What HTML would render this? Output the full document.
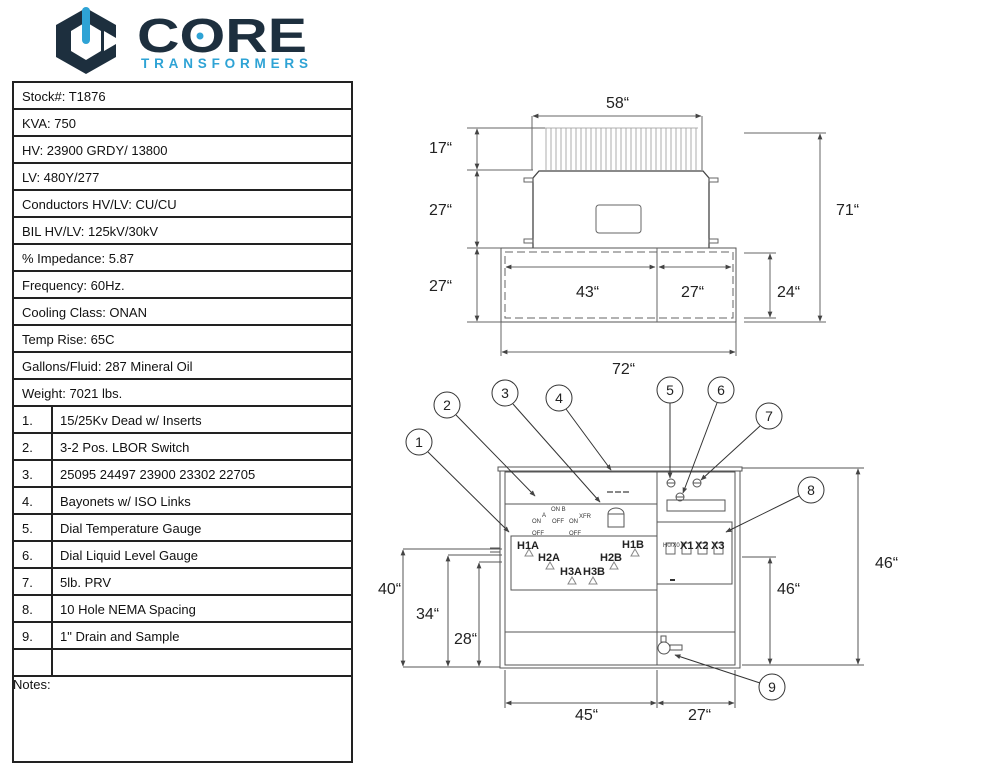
<!DOCTYPE html>
<html><head><meta charset="utf-8"><style>
body{margin:0;background:#fff;width:1000px;height:773px;overflow:hidden;font-family:"Liberation Sans",sans-serif}
svg{position:absolute;left:0;top:0}
</style></head><body>
<svg width="1000" height="773" viewBox="0 0 1000 773" xmlns="http://www.w3.org/2000/svg" font-family="Liberation Sans, sans-serif">
<defs>
<marker id="a" viewBox="0 0 10 10" refX="9" refY="5" markerWidth="6" markerHeight="6" orient="auto-start-reverse"><path d="M0,1 L10,5 L0,9z" fill="#444"/></marker>
</defs>
<!-- logo -->
<g>
<path d="M86,8 L116,25 L116,38 L104,31 L104,51 L116,44 L116,57 L86,74 L56,57 L56,25z" fill="#1d2f3e"/>
<path d="M86,22 L101,31 L101,51 L86,60 L71,51 L71,31z" fill="#fff"/>
<rect x="82" y="7" width="8" height="37" rx="4" fill="#2ea3d5"/>
<text x="137" y="52" font-size="48" font-weight="bold" fill="#1d2f3e" textLength="170" lengthAdjust="spacingAndGlyphs">CORE</text>
<circle cx="200" cy="36" r="3.5" fill="#2ea3d5"/>
<text x="141" y="68" font-size="13.5" font-weight="bold" fill="#2ea3d5" textLength="167" lengthAdjust="spacing">TRANSFORMERS</text>
</g>
<!-- table -->
<g stroke="#222" stroke-width="2" fill="none">
<rect x="13" y="82" width="339" height="680"/>
<line x1="13" y1="109" x2="352" y2="109"/><line x1="13" y1="136" x2="352" y2="136"/><line x1="13" y1="163" x2="352" y2="163"/><line x1="13" y1="190" x2="352" y2="190"/><line x1="13" y1="217" x2="352" y2="217"/><line x1="13" y1="244" x2="352" y2="244"/><line x1="13" y1="271" x2="352" y2="271"/><line x1="13" y1="298" x2="352" y2="298"/><line x1="13" y1="325" x2="352" y2="325"/><line x1="13" y1="352" x2="352" y2="352"/><line x1="13" y1="379" x2="352" y2="379"/><line x1="13" y1="406" x2="352" y2="406"/><line x1="13" y1="433" x2="352" y2="433"/><line x1="13" y1="460" x2="352" y2="460"/><line x1="13" y1="487" x2="352" y2="487"/><line x1="13" y1="514" x2="352" y2="514"/><line x1="13" y1="541" x2="352" y2="541"/><line x1="13" y1="568" x2="352" y2="568"/><line x1="13" y1="595" x2="352" y2="595"/><line x1="13" y1="622" x2="352" y2="622"/><line x1="13" y1="649" x2="352" y2="649"/><line x1="13" y1="676" x2="352" y2="676"/>
<line x1="52" y1="406" x2="52" y2="676"/>
</g>
<g font-size="13" fill="#111">
<text x="22" y="101">Stock#: T1876</text><text x="22" y="128">KVA: 750</text><text x="22" y="155">HV: 23900 GRDY/ 13800</text><text x="22" y="182">LV: 480Y/277</text><text x="22" y="209">Conductors HV/LV: CU/CU</text><text x="22" y="236">BIL HV/LV: 125kV/30kV</text><text x="22" y="263">% Impedance: 5.87</text><text x="22" y="290">Frequency: 60Hz.</text><text x="22" y="317">Cooling Class: ONAN</text><text x="22" y="344">Temp Rise: 65C</text><text x="22" y="371">Gallons/Fluid: 287 Mineral Oil</text><text x="22" y="398">Weight: 7021 lbs.</text>
<text x="22" y="425">1.</text><text x="22" y="452">2.</text><text x="22" y="479">3.</text><text x="22" y="506">4.</text><text x="22" y="533">5.</text><text x="22" y="560">6.</text><text x="22" y="587">7.</text><text x="22" y="614">8.</text><text x="22" y="641">9.</text>
<text x="60" y="425">15/25Kv Dead w/ Inserts</text><text x="60" y="452">3-2 Pos. LBOR Switch</text><text x="60" y="479">25095 24497 23900 23302 22705</text><text x="60" y="506">Bayonets w/ ISO Links</text><text x="60" y="533">Dial Temperature Gauge</text><text x="60" y="560">Dial Liquid Level Gauge</text><text x="60" y="587">5lb. PRV</text><text x="60" y="614">10 Hole NEMA Spacing</text><text x="60" y="641">1" Drain and Sample</text>
<text x="13" y="689">Notes:</text>
</g>
<!-- top view -->
<g stroke="#666" stroke-width="1" fill="none">
<g stroke="#999" stroke-width="0.8">
<path d="M546,128V170M551,128V170M556,128V170M561,128V170M566,128V170M571,128V170M576,128V170M581,128V170M586,128V170M591,128V170M596,128V170M601,128V170M606,128V170M611,128V170M616,128V170M621,128V170M626,128V170M631,128V170M636,128V170M641,128V170M646,128V170M651,128V170M656,128V170M661,128V170M666,128V170M671,128V170M676,128V170M681,128V170M686,128V170M691,128V170M696,128V170"/>
<line x1="545" y1="128" x2="698" y2="128"/>
</g>
<path d="M533,248V178L539,171H703L709,178V248" stroke="#444" stroke-width="1.3"/>
<rect x="524" y="178" width="9" height="4"/><rect x="709" y="178" width="9" height="4"/>
<rect x="524" y="239" width="9" height="4"/><rect x="709" y="239" width="9" height="4"/>
<rect x="596" y="205" width="45" height="28" rx="3"/>
<rect x="501" y="248" width="235" height="74" stroke="#555"/>
<rect x="505" y="252" width="228" height="66" stroke-dasharray="8,4"/>
<line x1="657" y1="248" x2="657" y2="322"/>
<line x1="532" y1="116" x2="532" y2="170"/><line x1="702" y1="116" x2="702" y2="170"/>
<line x1="533" y1="116" x2="701" y2="116" marker-start="url(#a)" marker-end="url(#a)"/>
<line x1="467" y1="128" x2="545" y2="128"/><line x1="467" y1="170" x2="533" y2="170"/><line x1="467" y1="248" x2="501" y2="248"/><line x1="467" y1="322" x2="501" y2="322"/>
<line x1="477" y1="129" x2="477" y2="169" marker-start="url(#a)" marker-end="url(#a)"/>
<line x1="477" y1="171" x2="477" y2="247" marker-start="url(#a)" marker-end="url(#a)"/>
<line x1="477" y1="249" x2="477" y2="321" marker-start="url(#a)" marker-end="url(#a)"/>
<line x1="744" y1="133" x2="826" y2="133"/><line x1="744" y1="322" x2="826" y2="322"/><line x1="744" y1="253" x2="776" y2="253"/><line x1="744" y1="318" x2="776" y2="318"/>
<line x1="820" y1="134" x2="820" y2="321" marker-start="url(#a)" marker-end="url(#a)"/>
<line x1="770" y1="254" x2="770" y2="317" marker-start="url(#a)" marker-end="url(#a)"/>
<line x1="506" y1="267" x2="655" y2="267" marker-start="url(#a)" marker-end="url(#a)"/>
<line x1="659" y1="267" x2="731" y2="267" marker-start="url(#a)" marker-end="url(#a)"/>
<line x1="501" y1="322" x2="501" y2="356"/><line x1="736" y1="322" x2="736" y2="356"/>
<line x1="502" y1="352" x2="735" y2="352" marker-start="url(#a)" marker-end="url(#a)"/>
</g>
<g font-size="16" fill="#222">
<text x="606" y="108">58“</text><text x="429" y="153">17“</text><text x="429" y="215">27“</text><text x="429" y="291">27“</text>
<text x="836" y="215">71“</text><text x="777" y="297">24“</text><text x="576" y="297">43“</text><text x="681" y="297">27“</text><text x="612" y="374">72“</text>
</g>
<!-- front view -->
<g stroke="#555" stroke-width="1" fill="none">
<rect x="498" y="467" width="244" height="4" fill="#fff"/>
<rect x="500" y="471" width="240" height="197"/>
<rect x="505" y="472" width="230" height="193"/>
<line x1="657" y1="472" x2="657" y2="665"/>
<line x1="505" y1="504" x2="657" y2="504"/>
<rect x="511" y="536" width="146" height="54"/>
<line x1="505" y1="632" x2="735" y2="632"/>
<rect x="667" y="500" width="58" height="11"/>
<rect x="657" y="522" width="75" height="62"/>
<circle cx="671" cy="483" r="4"/><line x1="667" y1="483" x2="675" y2="483"/>
<circle cx="697" cy="483" r="4"/><line x1="693" y1="483" x2="701" y2="483"/>
<circle cx="680" cy="497" r="4"/><line x1="676" y1="497" x2="684" y2="497"/>
<path d="M608,514a8,6 0 0 1 16,0v13h-16z"/><line x1="608" y1="514" x2="624" y2="514"/>
<path d="M607,492h6M615,492h6M623,492h6" stroke="#888" stroke-width="2"/>
<g stroke="#666"><rect x="666" y="543" width="9" height="11"/><rect x="682" y="543" width="9" height="11"/><rect x="698" y="543" width="9" height="11"/><rect x="714" y="543" width="9" height="11"/></g>
<g stroke="#888"><path d="M525,556l4,-7 4,7z"/><path d="M546,569l4,-7 4,7z"/><path d="M568,584l4,-7 4,7z"/><path d="M589,584l4,-7 4,7z"/><path d="M610,569l4,-7 4,7z"/><path d="M631,556l4,-7 4,7z"/></g>
<circle cx="664" cy="648" r="6"/><rect x="670" y="645" width="12" height="5"/><rect x="661" y="636" width="5" height="6"/>
<line x1="670" y1="580" x2="675" y2="580" stroke="#333" stroke-width="2"/>
<line x1="490" y1="548" x2="500" y2="548"/><line x1="490" y1="552" x2="500" y2="552"/>
<line x1="742" y1="468" x2="864" y2="468"/><line x1="742" y1="665" x2="864" y2="665"/><line x1="742" y1="557" x2="776" y2="557"/>
<line x1="858" y1="469" x2="858" y2="664" marker-start="url(#a)" marker-end="url(#a)"/>
<line x1="770" y1="558" x2="770" y2="664" marker-start="url(#a)" marker-end="url(#a)"/>
<line x1="403" y1="549" x2="502" y2="549"/><line x1="448" y1="555" x2="502" y2="555"/><line x1="479" y1="562" x2="502" y2="562"/><line x1="403" y1="667" x2="500" y2="667"/>
<line x1="403" y1="550" x2="403" y2="666" marker-start="url(#a)" marker-end="url(#a)"/>
<line x1="448" y1="556" x2="448" y2="666" marker-start="url(#a)" marker-end="url(#a)"/>
<line x1="479" y1="563" x2="479" y2="666" marker-start="url(#a)" marker-end="url(#a)"/>
<line x1="505" y1="670" x2="505" y2="708"/><line x1="657" y1="670" x2="657" y2="708"/><line x1="735" y1="670" x2="735" y2="708"/>
<line x1="506" y1="703" x2="656" y2="703" marker-start="url(#a)" marker-end="url(#a)"/>
<line x1="658" y1="703" x2="734" y2="703" marker-start="url(#a)" marker-end="url(#a)"/>
<g stroke="#333">
<circle cx="419" cy="442" r="13" fill="#fff"/><circle cx="447" cy="405" r="13" fill="#fff"/><circle cx="505" cy="393" r="13" fill="#fff"/><circle cx="559" cy="398" r="13" fill="#fff"/><circle cx="670" cy="390" r="13" fill="#fff"/><circle cx="721" cy="390" r="13" fill="#fff"/><circle cx="769" cy="416" r="13" fill="#fff"/><circle cx="811" cy="490" r="13" fill="#fff"/><circle cx="772" cy="687" r="13" fill="#fff"/>
<line x1="428" y1="452" x2="509" y2="532" marker-end="url(#a)"/>
<line x1="456" y1="415" x2="535" y2="496" marker-end="url(#a)"/>
<line x1="513" y1="404" x2="600" y2="502" marker-end="url(#a)"/>
<line x1="566" y1="409" x2="611" y2="470" marker-end="url(#a)"/>
<line x1="670" y1="403" x2="670" y2="478" marker-end="url(#a)"/>
<line x1="717" y1="403" x2="683" y2="493" marker-end="url(#a)"/>
<line x1="760" y1="426" x2="701" y2="480" marker-end="url(#a)"/>
<line x1="799" y1="496" x2="726" y2="532" marker-end="url(#a)"/>
<line x1="760" y1="683" x2="675" y2="655" marker-end="url(#a)"/>
</g>
</g>
<g font-size="14" fill="#222" text-anchor="middle">
<text x="419" y="447">1</text><text x="447" y="410">2</text><text x="505" y="398">3</text><text x="559" y="403">4</text><text x="670" y="395">5</text><text x="721" y="395">6</text><text x="769" y="421">7</text><text x="811" y="495">8</text><text x="772" y="692">9</text>
</g>
<g font-size="6" fill="#333">
<text x="551" y="511">ON  B</text><text x="542" y="517">A</text><text x="532" y="523">ON</text><text x="552" y="523">OFF</text><text x="579" y="518">XFR</text><text x="569" y="523">ON</text><text x="532" y="535">OFF</text><text x="569" y="535">OFF</text>
<text x="663" y="547">H0/X0</text>
</g>
<g font-size="11" font-weight="bold" fill="#222">
<text x="517" y="549">H1A</text><text x="538" y="561">H2A</text><text x="560" y="575">H3A</text><text x="583" y="575">H3B</text><text x="600" y="561">H2B</text><text x="622" y="548">H1B</text>
<text x="680" y="549">X1</text><text x="695" y="549">X2</text><text x="711" y="549">X3</text>
</g>
<g font-size="16" fill="#222">
<text x="875" y="568">46“</text><text x="777" y="594">46“</text><text x="378" y="594">40“</text><text x="416" y="619">34“</text><text x="454" y="644">28“</text><text x="575" y="720">45“</text><text x="688" y="720">27“</text>
</g>
</svg>
</body></html>
